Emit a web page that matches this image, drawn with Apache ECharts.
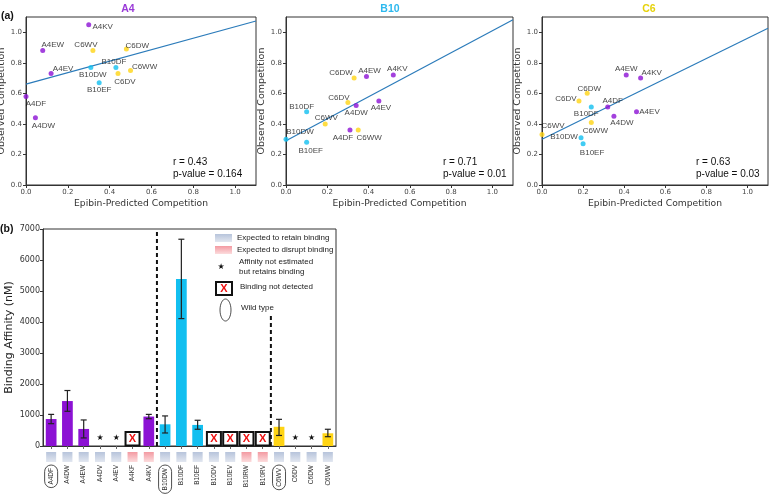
<!DOCTYPE html>
<html>
<head>
<meta charset="utf-8">
<script src="https://cdn.jsdelivr.net/npm/echarts@6/dist/echarts.min.js"></script>
<style>
  html, body { margin: 0; padding: 0; background: #fff; }
  #main { width: 769px; height: 495px; }
</style>
</head>
<body>
<div id="main"></div>
<script>
// ---- data: panel (a) scatter plots ----
var panelNames = ['A4', 'B10', 'C6'];

var a4Labels = ['A4KV', 'A4EW', 'C6WV', 'C6DW', 'B10DF', 'B10DW', 'A4EV', 'C6WW', 'C6DV', 'B10EF', 'A4DF', 'A4DW'];
var a4Pred   = [0.30, 0.08, 0.32, 0.48, 0.43, 0.31, 0.12, 0.50, 0.44, 0.35, 0.00, 0.045];
var a4Obs    = [1.05, 0.88, 0.88, 0.89, 0.77, 0.77, 0.73, 0.75, 0.73, 0.67, 0.58, 0.44];

var b10Labels = ['C6DW', 'A4EW', 'A4KV', 'C6DV', 'A4DW', 'A4EV', 'B10DF', 'C6WV', 'A4DF', 'C6WW', 'B10DW', 'B10EF'];
var b10Pred   = [0.33, 0.39, 0.52, 0.30, 0.34, 0.45, 0.10, 0.19, 0.31, 0.35, 0.00, 0.10];
var b10Obs    = [0.70, 0.71, 0.72, 0.54, 0.52, 0.55, 0.48, 0.40, 0.36, 0.36, 0.30, 0.28];

var c6Labels = ['A4EW', 'A4KV', 'C6DW', 'C6DV', 'A4DF', 'B10DF', 'A4EV', 'A4DW', 'C6WW', 'C6WV', 'B10DW', 'B10EF'];
var c6Pred   = [0.41, 0.48, 0.22, 0.18, 0.32, 0.24, 0.46, 0.35, 0.24, 0.00, 0.19, 0.20];
var c6Obs    = [0.72, 0.70, 0.60, 0.55, 0.51, 0.51, 0.48, 0.45, 0.41, 0.33, 0.31, 0.27];

var fitIntercept = [0.66, 0.29, 0.30];
var fitSlope     = [0.376, 0.72, 0.66];
var rValues = ['0.43', '0.71', '0.63'];
var pValues = ['0.164', '0.01', '0.03'];
var competitionTicks = [0, 0.2, 0.4, 0.6, 0.8, 1.0];

// ---- data: panel (b) binding affinity ----
var mutants  = ['A4DF', 'A4DW', 'A4EW', 'A4DV', 'A4EV', 'A4KF', 'A4KV', 'B10DW', 'B10DF', 'B10EF',
                'B10DV', 'B10EV', 'B10RW', 'B10RV', 'C6WV', 'C6DV', 'C6DW', 'C6WW'];
var affinity = [870, 1450, 550, null, null, null, 950, 700, 5390, 680, null, null, null, null, 620, null, null, 410];
var errLow   = [720, 1120, 260, null, null, null, 880, 420, 4110, 540, null, null, null, null, 340, null, null, 300];
var errHigh  = [1020, 1790, 840, null, null, null, 1020, 970, 6670, 830, null, null, null, null, 860, null, null, 540];
var bindStatus = ['ok', 'ok', 'ok', 'est', 'est', 'nd', 'ok', 'ok', 'ok', 'ok',
                  'nd', 'nd', 'nd', 'nd', 'ok', 'est', 'est', 'ok'];
var expected = ['retain', 'retain', 'retain', 'retain', 'retain', 'disrupt', 'disrupt', 'retain', 'retain', 'retain',
                'retain', 'retain', 'disrupt', 'disrupt', 'retain', 'retain', 'retain', 'retain'];
var wildType = ['A4DF', 'B10DW', 'C6WV'];
var dividerAfter = ['A4KV', 'B10RV'];
var dividerTop   = [7000, 4200];
var affinityTicks = [0, 1000, 2000, 3000, 4000, 5000, 6000, 7000];

// ---- look ----
var groupColor = { A4: '#8c12d4', B10: '#12bff0', C6: '#ffd414' };
var titleColor = { A4: '#9a3ad8', B10: '#2cb8ee', C6: '#e6d20a' };
function colorOf(name) {
    return groupColor[name.match(/^(A4|B10|C6)/)[1]];
}

// label offsets (px) for the point names, one map per panel
var labelOffsets = [
    { A4KV: [14, 2], A4EW: [10, -6], C6WV: [-7, -6], C6DW: [11, -3], B10DF: [-2, -6], B10DW: [2, 7],
      A4EV: [12, -5], C6WW: [14, -4], C6DV: [7, 8], B10EF: [0, 7], A4DF: [10, 7], A4DW: [8, 8] },
    { C6DW: [-13, -5], A4EW: [3, -6], A4KV: [4, -6], C6DV: [-9, -5], A4DW: [0, 7], A4EV: [2, 7],
      B10DF: [-5, -5], C6WV: [1, -6], A4DF: [-7, 8], C6WW: [11, 8], B10DW: [14, -7], B10EF: [4, 9] },
    { A4EW: [0, -6], A4KV: [11, -5], C6DW: [2, -5], C6DV: [-13, -2], A4DF: [5, -6], B10DF: [-5, 7],
      A4EV: [13, 0], A4DW: [8, 7], C6WW: [4, 8], C6WV: [11, -9], B10DW: [-17, -1], B10EF: [9, 9] }
];

var panelData = [
    [a4Labels, a4Pred, a4Obs],
    [b10Labels, b10Pred, b10Obs],
    [c6Labels, c6Pred, c6Obs]
];

var panelGrids = [
    { left: 26, top: 17, width: 230, height: 168 },
    { left: 286, top: 17, width: 227, height: 168 },
    { left: 542, top: 17, width: 226, height: 168 }
];
var titleX = [128, 390, 649];
var statX = [173, 443, 696];

var TICK_FONT = 'DejaVu Sans';
var TEXT_FONT = 'Liberation Sans';

var grids = [], xAxes = [], yAxes = [], series = [], graphics = [];

panelNames.forEach(function (p, i) {
    var g = panelGrids[i];
    grids.push({
        left: g.left, top: g.top, width: g.width, height: g.height,
        show: true, borderColor: '#333', borderWidth: 1,
        outerBoundsMode: 'none'
    });
    xAxes.push({
        gridIndex: i, type: 'value', min: 0, max: 1.1, interval: 0.2,
        axisLine: { show: true, lineStyle: { color: '#333', width: 1 } },
        axisTick: { show: true, length: 3, customValues: competitionTicks, lineStyle: { color: '#333' } },
        axisLabel: { customValues: competitionTicks, fontSize: 7, color: '#444', margin: 4,
                     fontFamily: TICK_FONT, formatter: function (v) { return v.toFixed(1); } },
        splitLine: { show: false },
        name: 'Epibin-Predicted Competition', nameLocation: 'middle', nameGap: 14,
        nameTextStyle: { fontSize: 9.2, color: '#333', fontFamily: TICK_FONT }
    });
    yAxes.push({
        gridIndex: i, type: 'value', min: 0, max: 1.1, interval: 0.2,
        axisLine: { show: true, lineStyle: { color: '#333', width: 1 } },
        axisTick: { show: true, length: 3, customValues: competitionTicks, lineStyle: { color: '#333' } },
        axisLabel: { customValues: competitionTicks, fontSize: 7, color: '#444', margin: 4,
                     fontFamily: TICK_FONT, formatter: function (v) { return v.toFixed(1); } },
        splitLine: { show: false },
        name: 'Observed Competition', nameLocation: 'middle', nameGap: 14,
        nameTextStyle: { fontSize: 9.5, color: '#333', fontFamily: TICK_FONT }
    });

    var names = panelData[i][0], xs = panelData[i][1], ys = panelData[i][2];
    series.push({
        type: 'line', xAxisIndex: i, yAxisIndex: i, showSymbol: false, silent: true,
        lineStyle: { color: '#2b7bba', width: 1.2 },
        data: [[0, fitIntercept[i]], [1.1, fitIntercept[i] + fitSlope[i] * 1.1]],
        z: 1
    });
    series.push({
        type: 'scatter', xAxisIndex: i, yAxisIndex: i, symbolSize: 5,
        data: names.map(function (n, k) {
            return {
                name: n, value: [xs[k], ys[k]],
                itemStyle: { color: colorOf(n) },
                label: { offset: labelOffsets[i][n] || [0, -7] }
            };
        }),
        label: {
            show: true, position: 'inside', formatter: '{b}',
            fontSize: 8, color: '#111', fontFamily: TEXT_FONT
        },
        z: 3
    });

    graphics.push({
        type: 'text', x: titleX[i], y: 9,
        style: { text: p, fill: titleColor[p], font: 'bold 10.5px ' + TEXT_FONT, align: 'center', verticalAlign: 'middle' }
    });
    graphics.push({
        type: 'text', x: statX[i], y: 162,
        style: { text: 'r = ' + rValues[i], fill: '#111', font: '10px ' + TEXT_FONT, verticalAlign: 'middle' }
    });
    graphics.push({
        type: 'text', x: statX[i], y: 174,
        style: { text: 'p-value = ' + pValues[i], fill: '#111', font: '10px ' + TEXT_FONT, verticalAlign: 'middle' }
    });
});

// ---- panel (b) ----
var B = 3;
grids.push({ left: 43, top: 229, width: 293, height: 217, show: true, borderColor: '#333', borderWidth: 1,
             outerBoundsMode: 'none' });
xAxes.push({
    gridIndex: B, type: 'category', data: mutants,
    axisLine: { show: true, lineStyle: { color: '#333' } },
    axisTick: { show: true, alignWithLabel: true, length: 3, lineStyle: { color: '#666' } },
    axisLabel: {
        rotate: 90, fontSize: 6.5, color: '#333', margin: 19, fontFamily: TEXT_FONT, interval: 0,
        formatter: function (v) { return wildType.indexOf(v) >= 0 ? '{wt|' + v + '}' : v; },
        rich: { wt: { fontSize: 6.5, color: '#333', fontFamily: TEXT_FONT, borderColor: '#222', borderWidth: 0.8,
                      borderRadius: 8, padding: [3, 3] } }
    }
});
yAxes.push({
    gridIndex: B, type: 'value', min: 0, max: 7000, interval: 1000,
    axisLine: { show: true, lineStyle: { color: '#333' } },
    axisTick: { show: true, length: 3, customValues: affinityTicks, lineStyle: { color: '#333' } },
    axisLabel: { customValues: affinityTicks, fontSize: 8, color: '#333', fontFamily: TICK_FONT, margin: 3,
                 formatter: function (v) { return String(v); } },
    splitLine: { show: false },
    name: 'Binding Affinity (nM)', nameLocation: 'middle', nameGap: 28,
    nameTextStyle: { fontSize: 11, color: '#222', fontFamily: TICK_FONT }
});

series.push({
    type: 'bar', xAxisIndex: B, yAxisIndex: B, barWidth: '66%',
    data: affinity.map(function (v, i) {
        return v == null ? '-' : { value: v, itemStyle: { color: colorOf(mutants[i]) } };
    }),
    z: 2
});

// error bars
series.push({
    type: 'custom', xAxisIndex: B, yAxisIndex: B, silent: true, z: 4,
    data: mutants.map(function (m, i) { return [i, errLow[i], errHigh[i]]; })
                 .filter(function (d) { return d[1] != null; }),
    renderItem: function (params, api) {
        var lo = api.coord([api.value(0), api.value(1)]);
        var hi = api.coord([api.value(0), api.value(2)]);
        var w = 3;
        var st = { stroke: '#222', lineWidth: 1.2 };
        return { type: 'group', children: [
            { type: 'line', shape: { x1: lo[0], y1: lo[1], x2: hi[0], y2: hi[1] }, style: st },
            { type: 'line', shape: { x1: lo[0] - w, y1: lo[1], x2: lo[0] + w, y2: lo[1] }, style: st },
            { type: 'line', shape: { x1: hi[0] - w, y1: hi[1], x2: hi[0] + w, y2: hi[1] }, style: st }
        ] };
    }
});

// status markers: stars and "not detected" boxes
series.push({
    type: 'custom', xAxisIndex: B, yAxisIndex: B, silent: true, z: 5,
    data: bindStatus.map(function (s, i) { return [i, s === 'nd' ? 1 : (s === 'est' ? 2 : 0)]; })
                    .filter(function (d) { return d[1] > 0; }),
    renderItem: function (params, api) {
        var p = api.coord([api.value(0), 0]);
        if (api.value(1) === 2) {
            return { type: 'text', x: p[0], y: p[1] - 8,
                     style: { text: '★', fill: '#111', font: '8px ' + TICK_FONT, align: 'center', verticalAlign: 'middle' } };
        }
        return { type: 'group', children: [
            { type: 'rect', shape: { x: p[0] - 7, y: p[1] - 14, width: 14, height: 13.5 },
              style: { fill: '#fff', stroke: '#111', lineWidth: 2 } },
            { type: 'text', x: p[0], y: p[1] - 7,
              style: { text: 'X', fill: '#ee1111', font: 'bold 11px ' + TEXT_FONT, align: 'center', verticalAlign: 'middle' } }
        ] };
    }
});

// expected-effect swatches under the axis
function swatchFill(kind) {
    return kind === 'disrupt'
        ? new echarts.graphic.LinearGradient(0, 0, 0, 1, [{ offset: 0, color: '#f39aa2' }, { offset: 1, color: '#fcdcdd' }])
        : new echarts.graphic.LinearGradient(0, 0, 0, 1, [{ offset: 0, color: '#b7c4db' }, { offset: 1, color: '#e2e7f0' }]);
}
series.push({
    type: 'custom', xAxisIndex: B, yAxisIndex: B, silent: true, z: 5,
    data: expected.map(function (e, i) { return [i, e === 'disrupt' ? 1 : 0]; }),
    renderItem: function (params, api) {
        var p = api.coord([api.value(0), 0]);
        return { type: 'rect', shape: { x: p[0] - 5, y: p[1] + 6, width: 10, height: 10 },
                 style: { fill: swatchFill(api.value(1) === 1 ? 'disrupt' : 'retain') } };
    }
});

// dashed group separators
series.push({
    type: 'custom', xAxisIndex: B, yAxisIndex: B, silent: true, z: 6,
    data: dividerAfter.map(function (m, k) { return [mutants.indexOf(m), dividerTop[k]]; }),
    renderItem: function (params, api) {
        var a = api.coord([api.value(0), 0]);
        var b = api.coord([api.value(0) + 1, api.value(1)]);
        var x = (a[0] + b[0]) / 2;
        return { type: 'line', shape: { x1: x, y1: a[1], x2: x, y2: b[1] },
                 style: { stroke: '#111', lineWidth: 2, lineDash: [4, 3] } };
    }
});

// panel letters
graphics.push({ type: 'text', left: 1, top: 11, style: { text: '(a)', fill: '#111', font: 'bold 10.5px ' + TEXT_FONT } });
graphics.push({ type: 'text', left: 0, top: 224, style: { text: '(b)', fill: '#111', font: 'bold 10.5px ' + TEXT_FONT } });

// legend for panel (b)
var legendFont = '8px ' + TEXT_FONT;
graphics.push(
    { type: 'rect', shape: { x: 215, y: 234, width: 17, height: 8 }, style: { fill: swatchFill('retain') } },
    { type: 'text', x: 237, y: 238, style: { text: 'Expected to retain binding', fill: '#222', font: legendFont, verticalAlign: 'middle' } },
    { type: 'rect', shape: { x: 215, y: 246, width: 17, height: 8 }, style: { fill: swatchFill('disrupt') } },
    { type: 'text', x: 237, y: 249.5, style: { text: 'Expected to disrupt binding', fill: '#222', font: legendFont, verticalAlign: 'middle' } },
    { type: 'text', x: 221, y: 267, style: { text: '★', fill: '#111', font: '8px ' + TICK_FONT, align: 'center', verticalAlign: 'middle' } },
    { type: 'text', x: 239, y: 262, style: { text: 'Affinity not estimated', fill: '#222', font: legendFont, verticalAlign: 'middle' } },
    { type: 'text', x: 239, y: 272, style: { text: 'but retains binding', fill: '#222', font: legendFont, verticalAlign: 'middle' } },
    { type: 'rect', shape: { x: 216, y: 282, width: 16, height: 13 }, style: { fill: '#fff', stroke: '#111', lineWidth: 2 } },
    { type: 'text', x: 224, y: 288.5, style: { text: 'X', fill: '#ee1111', font: 'bold 11px ' + TEXT_FONT, align: 'center', verticalAlign: 'middle' } },
    { type: 'text', x: 240, y: 287, style: { text: 'Binding not detected', fill: '#222', font: legendFont, verticalAlign: 'middle' } },
    { type: 'ellipse', shape: { cx: 225.5, cy: 310, rx: 5.5, ry: 11 }, style: { fill: 'none', stroke: '#222', lineWidth: 0.8 } },
    { type: 'text', x: 241, y: 308, style: { text: 'Wild type', fill: '#222', font: legendFont, verticalAlign: 'middle' } }
);

var myChart = echarts.init(document.getElementById('main'));
myChart.setOption({
    animation: false,
    backgroundColor: '#fff',
    grid: grids,
    xAxis: xAxes,
    yAxis: yAxes,
    series: series,
    graphic: graphics
});
</script>
</body>
</html>
